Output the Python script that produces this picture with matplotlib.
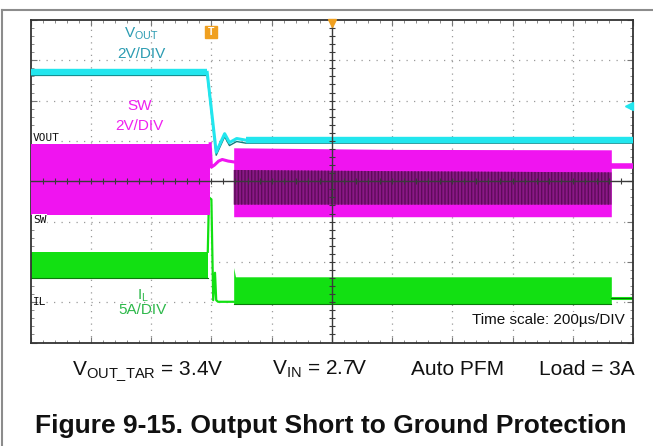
import matplotlib.pyplot as plt
from matplotlib import transforms
from matplotlib.lines import Line2D

plt.rcParams['font.family'] = ['Liberation Sans', 'DejaVu Sans']
plt.rcParams['mathtext.fontset'] = 'custom'
plt.rcParams['mathtext.rm'] = 'Liberation Sans'
plt.rcParams['mathtext.it'] = 'Liberation Sans:italic'
plt.rcParams['mathtext.bf'] = 'Liberation Sans:bold'

# scope screen: x = time divisions (200us/DIV), y = vertical divisions
# VOUT (2V/DIV)
vout_t = [0, 2.93, 3.08, 3.22, 3.30, 3.42, 3.57, 10]
vout_y = [2.70, 2.70, 0.72, 1.18, 0.96, 1.06, 1.02, 1.02]

# SW (2V/DIV) switching envelope
sw_on_t = [0, 2.98]
sw_on_hi = [0.93, 0.93]
sw_on_lo = [-0.83, -0.83]
sw_gap_t = [2.98, 3.00, 3.05, 3.12, 3.18, 3.28, 3.37]
sw_gap_y = [0.93, 0.35, 0.40, 0.50, 0.54, 0.50, 0.48]
sw_hic_t = [3.37, 6.0, 9.64]
sw_hic_hi = [0.83, 0.79, 0.78]
sw_hic_mid = [0.28, 0.25, 0.22]
sw_hic_dk = [-0.58, -0.58, -0.58]
sw_hic_lo = [-0.88, -0.88, -0.88]
sw_off_t = [9.64, 10]
sw_off_y = [0.38, 0.38]

# IL (5A/DIV)
il_on_t = [0, 2.94]
il_on_hi = [-1.75, -1.75]
il_on_lo = [-2.39, -2.39]
il_gap_t = [2.94, 2.96, 3.00, 3.03, 3.06, 3.08, 3.11, 3.37]
il_gap_y = [-1.75, -0.40, -0.45, -2.95, -2.27, -2.95, -2.99, -2.99]
il_hic_t = [3.37, 3.40, 9.64]
il_hic_hi = [-2.14, -2.37, -2.37]
il_hic_lo = [-3.04, -3.04, -3.04]
il_off_t = [9.64, 10]
il_off_y = [-2.89, -2.89]

bottom_labels = [r'$\mathrm{V_{OUT\_TAR}}$ = 3.4V', r'$\mathrm{V_{IN}}$ = 2.7V', 'Auto PFM', 'Load = 3A']
bottom_x = [0.110, 0.4165, 0.629, 0.825]

fig = plt.figure(figsize=(6.53, 4.46), dpi=100)
ax = fig.add_axes([30.7/653, 1-342.5/446, (633-30.7)/653, (342.5-20)/446])
ax.set_xlim(0, 10)
ax.set_ylim(-4, 4)

# dotted graticule
for gx in range(1, 10):
    if gx != 5:
        ax.axvline(gx, color='#9a9a9a', lw=0.9, ls=(0, (1, 4)), zorder=0)
for gy in range(-3, 4):
    if gy != 0:
        ax.axhline(gy, color='#9a9a9a', lw=0.9, ls=(0, (1, 5)), zorder=0)

# IL trace
ax.fill_between(il_on_t, il_on_lo, il_on_hi, color='#12e012', lw=0, zorder=2)
ax.fill_between(il_hic_t, il_hic_lo, il_hic_hi, color='#12e012', lw=0, zorder=2)
ax.plot(il_on_t, il_on_lo, color='#0a7a0a', lw=0.8, zorder=2)
ax.plot(il_hic_t, il_hic_lo, color='#0a7a0a', lw=0.8, zorder=2)
ax.plot(il_gap_t, il_gap_y, color='#12e012', lw=1.6, zorder=2)
ax.plot(il_off_t, il_off_y, color='#12e012', lw=2.2, zorder=2)
ax.plot(il_off_t, il_off_y, color='#0a6a0a', lw=0.7, zorder=2)

# SW trace
ax.fill_between(sw_on_t, sw_on_lo, sw_on_hi, color='#f014f0', lw=0, zorder=3)
ax.fill_between(sw_hic_t, sw_hic_lo, sw_hic_hi, color='#f014f0', lw=0, zorder=3)
ax.fill_between(sw_hic_t, sw_hic_dk, sw_hic_mid, facecolor='#8a1886', edgecolor='#5e0a5a',
                hatch='|||||', lw=0, zorder=3)
ax.plot(sw_gap_t, sw_gap_y, color='#f014f0', lw=2.2, zorder=3)
ax.plot(sw_off_t, sw_off_y, color='#f014f0', lw=4, zorder=3)

# VOUT trace
shift = transforms.offset_copy(ax.transData, fig=fig, y=-3, units='dots')
ax.plot(vout_t, vout_y, color='#127c7c', lw=1.0, transform=shift, zorder=4)
ax.plot(vout_t[:2], vout_y[:2], color='#22e6ee', lw=4.6, zorder=4, solid_capstyle='butt')
ax.plot(vout_t[1:7], vout_y[1:7], color='#22e6ee', lw=2.2, zorder=4)
ax.plot(vout_t[6:], vout_y[6:], color='#22e6ee', lw=4.6, zorder=4, solid_capstyle='butt')

# centre crosshair with minor ticks
ax.axhline(0, color='#3a3a3a', lw=1.0, zorder=5)
ax.axvline(5, color='#3a3a3a', lw=1.0, zorder=5)
minor_x = [i * 0.2 for i in range(1, 50)]
minor_y = [-4 + i * 0.2 for i in range(1, 40)]
ax.plot(minor_x, [0] * len(minor_x), ls='none', marker='|', ms=4, mew=0.8, color='#3a3a3a', zorder=5)
ax.plot([5] * len(minor_y), minor_y, ls='none', marker='_', ms=4, mew=0.8, color='#3a3a3a', zorder=5)

ax.set_xticks(range(0, 11))
ax.set_yticks(range(-4, 5))
ax.set_xticks(minor_x, minor=True)
ax.set_yticks(minor_y, minor=True)
ax.tick_params(which='both', direction='in', top=True, right=True,
               labelbottom=False, labelleft=False, color='#777777')
ax.tick_params(which='major', length=4, width=0.8)
ax.tick_params(which='minor', length=2, width=0.6)
for sp in ax.spines.values():
    sp.set_color('#333333')
    sp.set_linewidth(1.3)

# channel tags
tag = dict(family='DejaVu Sans Mono', fontsize=8, color='#111111', zorder=6)
ax.text(0.04, 0.95, 'VOUT', va='bottom', ha='left',
        bbox=dict(facecolor='white', edgecolor='none', pad=0.5), **tag)
ax.text(0.04, -0.95, 'SW', va='center', ha='left',
        bbox=dict(facecolor='white', edgecolor='none', pad=0.5), **tag)
ax.text(0.04, -2.99, 'IL', va='center', ha='left', **tag)

# channel scale annotations
ax.text(1.83, 3.56, r'$\mathrm{V_{OUT}}$', color='#2c9cb2', fontsize=11, ha='center', va='baseline', zorder=6)
ax.text(1.83, 3.16, '2V/DIV', color='#2c9cb2', fontsize=11, ha='center', va='center', zorder=6)
ax.text(1.81, 1.87, 'SW', color='#f020f0', fontsize=11, ha='center', va='center', zorder=6)
ax.text(1.81, 1.38, '2V/DIV', color='#f020f0', fontsize=11, ha='center', va='center', zorder=6)
ax.text(1.86, -2.94, r'$\mathrm{I_{L}}$', color='#2db84a', fontsize=11, ha='center', va='baseline', zorder=6)
ax.text(1.86, -3.20, '5A/DIV', color='#2db84a', fontsize=11, ha='center', va='center', zorder=6)
ax.text(9.87, -3.44, 'Time scale: 200µs/DIV', color='#111111', fontsize=11, ha='right', va='center',
        bbox=dict(facecolor='white', edgecolor='none', pad=1), zorder=6)

# trigger markers
ax.plot([3.0], [3.70], marker='s', ms=9, color='#f0a020', clip_on=False, zorder=7)
ax.text(3.0, 3.70, 'T', color='white', fontsize=7.5, fontweight='bold', ha='center', va='center', zorder=8)
ax.plot([5.0], [3.93], marker='v', ms=6, color='#f0a020', clip_on=False, zorder=7)
ax.plot([9.93], [1.87], marker='<', ms=6, color='#22e6ee', clip_on=False, zorder=7)

# conditions and caption
for lab, xx in zip(bottom_labels, bottom_x):
    fig.text(xx, 0.159, lab, fontsize=15, ha='left', va='baseline', color='#111111')
fig.text(0.0536, 0.029, 'Figure 9-15. Output Short to Ground Protection', fontsize=19,
         fontweight='bold', ha='left', va='baseline', color='#111111')

# page frame
fig.add_artist(Line2D([1.5/653, 1], [1-9.5/446, 1-9.5/446], color='#8c8c8c', lw=1.5))
fig.add_artist(Line2D([1.5/653, 1.5/653], [0, 1-9.5/446], color='#8c8c8c', lw=1.5))

plt.savefig('out.png', dpi=100)
